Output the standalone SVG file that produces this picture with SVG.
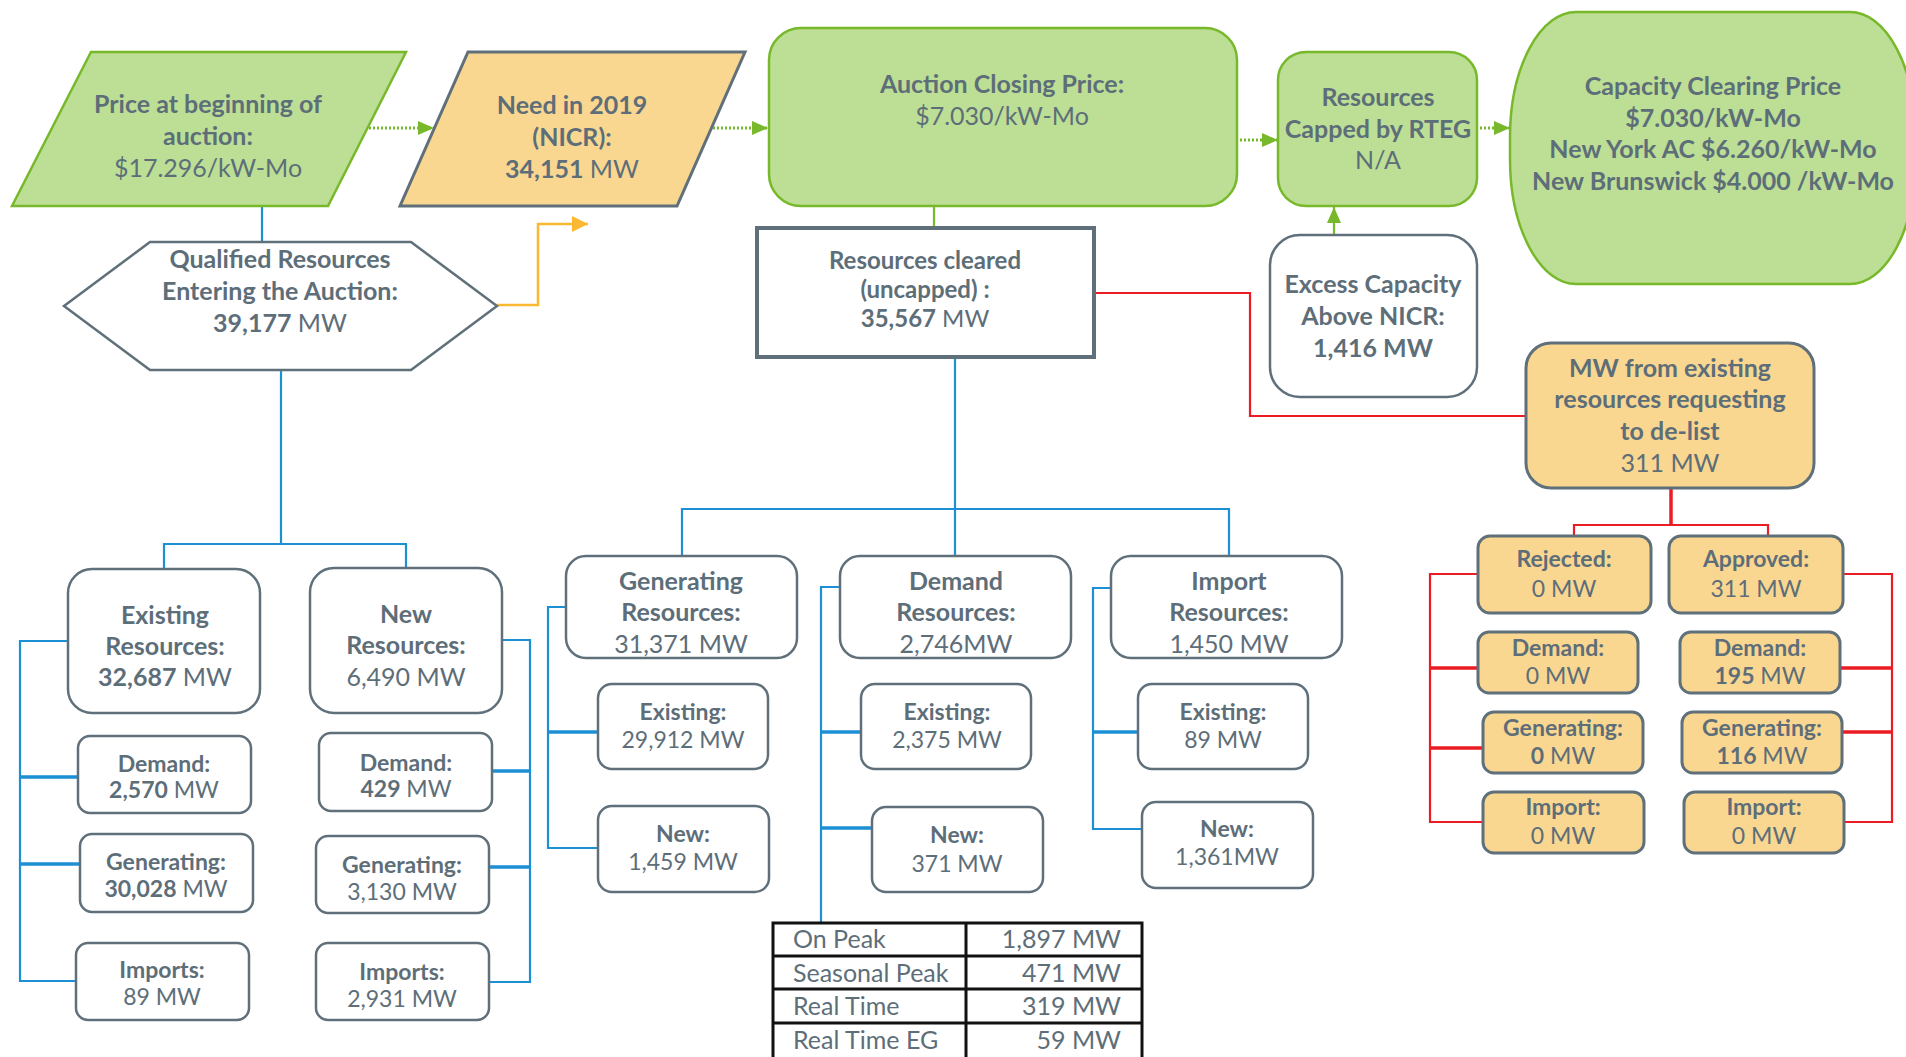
<svg xmlns="http://www.w3.org/2000/svg" width="1906" height="1057" viewBox="0 0 1906 1057">
<defs>
<style>
.t{font-family:Lato,"Liberation Sans",sans-serif;fill:#5d6e79;text-anchor:middle}
.b{font-weight:700}
.r{font-weight:400}
.L{font-size:25px}
.C{font-size:24px}
.S{font-size:23px}
.T{font-size:25px;font-weight:400}
.g{fill:#bcdf95;stroke:#78b92b;stroke-width:2.5}
.o{fill:#fad791;stroke:#5f707b;stroke-width:3}
.w{fill:#ffffff;stroke:#5f707b;stroke-width:2.5}
.cb{fill:none;stroke:#1d8fd5;stroke-width:2.2}
.cbt{fill:none;stroke:#1d8fd5;stroke-width:3.5}
.cr{fill:none;stroke:#ec1c24;stroke-width:2.2}
.crt{fill:none;stroke:#ec1c24;stroke-width:3.5}
.cgd{fill:none;stroke:#78b92b;stroke-width:3;stroke-dasharray:2 2}
.cg{fill:none;stroke:#78b92b;stroke-width:2.2}
.co{fill:none;stroke:#fbb831;stroke-width:2.5}
.tb{fill:none;stroke:#111111;stroke-width:3}
</style>
<marker id="ag" markerUnits="userSpaceOnUse" markerWidth="16" markerHeight="16" viewBox="0 0 16 16" refX="16" refY="8" orient="auto"><path d="M0,1 L16,8 L0,15 z" fill="#78b92b"/></marker>
<marker id="ao" markerUnits="userSpaceOnUse" markerWidth="16" markerHeight="16" viewBox="0 0 16 16" refX="16" refY="8" orient="auto"><path d="M0,0 L16,8 L0,16 z" fill="#fbb831"/></marker>
</defs>
<rect width="1906" height="1057" fill="#ffffff"/>

<g id="connectors">
<line class="cb" x1="262" y1="206" x2="262" y2="242"/>
<path class="co" d="M497,305 H538 V224 H588" marker-end="url(#ao)"/>
<line class="cgd" x1="369" y1="128" x2="434" y2="128" marker-end="url(#ag)"/>
<line class="cgd" x1="713" y1="128" x2="768" y2="128" marker-end="url(#ag)"/>
<line class="cgd" x1="1240" y1="140" x2="1278" y2="140" marker-end="url(#ag)"/>
<line class="cgd" x1="1480" y1="128" x2="1510" y2="128" marker-end="url(#ag)"/>
<line class="cg" x1="934" y1="206" x2="934" y2="228"/>
<line class="cg" x1="1334" y1="235" x2="1334" y2="207" marker-end="url(#ag)"/>
<path class="cr" d="M1094,293 H1250 V416 H1526"/>
<path class="cb" d="M281,370 V544 M164,569 V544 H406 V568"/>
<path class="cb" d="M68,641 H20 V981 H76"/>
<path class="cbt" d="M20,777 H78 M20,864 H80"/>
<path class="cb" d="M502,640 H530 V982 H489"/>
<path class="cbt" d="M492,771 H530 M489,867 H530"/>
<path class="cb" d="M955,357 V556 M682,556 V509 H1229 V556"/>
<path class="cb" d="M566,607 H548 V848 H598"/>
<path class="cbt" d="M548,732 H598"/>
<path class="cb" d="M840,587 H821 V923"/>
<path class="cbt" d="M821,732 H861 M821,828 H872"/>
<path class="cb" d="M1111,588 H1093 V829 H1142"/>
<path class="cbt" d="M1093,732 H1138"/>
<path class="crt" d="M1671,488 V525"/>
<path class="cr" d="M1574,536 V525 H1768 V536"/>
<path class="cr" d="M1478,574 H1430 V822 H1483"/>
<path class="crt" d="M1430,668 H1478 M1430,748 H1483"/>
<path class="cr" d="M1843,574 H1892 V822 H1844"/>
<path class="crt" d="M1840,668 H1892 M1842,732 H1892"/>
</g>

<g id="price-begin">
<polygon class="g" points="91,52 406,52 328,206 12,206"/>
<text class="t L b" x="208" y="113">Price at beginning of</text>
<text class="t L b" x="208" y="145">auction:</text>
<text class="t L r" x="208" y="177">$17.296/kW-Mo</text>
</g>

<g id="need-2019">
<polygon class="o" points="468,52 745,52 677,206 400,206"/>
<text class="t L b" x="572" y="114">Need in 2019</text>
<text class="t L b" x="572" y="146">(NICR):</text>
<text class="t L" x="572" y="178"><tspan class="b">34,151</tspan><tspan class="r"> MW</tspan></text>
</g>

<g id="auction-closing">
<rect class="g" x="769" y="28" width="468" height="178" rx="32"/>
<text class="t L b" x="1002" y="93">Auction Closing Price:</text>
<text class="t L r" x="1002" y="125">$7.030/kW-Mo</text>
</g>

<g id="capped-rteg">
<rect class="g" x="1278" y="52" width="199" height="154" rx="28"/>
<text class="t L b" x="1378" y="106">Resources</text>
<text class="t L b" x="1378" y="138">Capped by RTEG</text>
<text class="t L r" x="1378" y="169">N/A</text>
</g>

<g id="capacity-clearing">
<rect class="g" x="1510" y="12" width="406" height="272" rx="66" ry="125"/>
<text class="t L b" x="1713" y="95">Capacity Clearing Price</text>
<text class="t L b" x="1713" y="127">$7.030/kW-Mo</text>
<text class="t L b" x="1713" y="158">New York AC $6.260/kW-Mo</text>
<text class="t L b" x="1713" y="190">New Brunswick $4.000 /kW-Mo</text>
</g>

<g id="qualified">
<polygon class="w" points="64,306 150,242 411,242 497,306 411,370 150,370"/>
<text class="t L b" x="280" y="268">Qualified Resources</text>
<text class="t L b" x="280" y="300">Entering the Auction:</text>
<text class="t L" x="280" y="332"><tspan class="b">39,177</tspan><tspan class="r"> MW</tspan></text>
</g>

<g id="cleared">
<rect x="757" y="228" width="337" height="129" fill="#ffffff" stroke="#5f707b" stroke-width="4"/>
<text class="t C b" x="925" y="269">Resources cleared</text>
<text class="t C b" x="925" y="298">(uncapped) :</text>
<text class="t C" x="925" y="327"><tspan class="b">35,567</tspan><tspan class="r"> MW</tspan></text>
</g>

<g id="excess">
<rect class="w" x="1270" y="235" width="207" height="162" rx="30"/>
<text class="t L b" x="1373" y="293">Excess Capacity</text>
<text class="t L b" x="1373" y="325">Above NICR:</text>
<text class="t L b" x="1373" y="357">1,416 MW</text>
</g>

<g id="delist">
<rect class="o" x="1526" y="343" width="288" height="145" rx="25"/>
<text class="t L b" x="1670" y="377">MW from existing</text>
<text class="t L b" x="1670" y="408">resources requesting</text>
<text class="t L b" x="1670" y="440">to de-list</text>
<text class="t L r" x="1670" y="472">311 MW</text>
</g>

<g id="existing-res">
<rect class="w" x="68" y="569" width="192" height="144" rx="24"/>
<text class="t L b" x="165" y="624">Existing</text>
<text class="t L b" x="165" y="655">Resources:</text>
<text class="t L" x="165" y="686"><tspan class="b">32,687</tspan><tspan class="r"> MW</tspan></text>
</g>

<g id="new-res">
<rect class="w" x="310" y="568" width="192" height="145" rx="24"/>
<text class="t L b" x="406" y="623">New</text>
<text class="t L b" x="406" y="654">Resources:</text>
<text class="t L r" x="406" y="686">6,490 MW</text>
</g>

<g id="ex-demand">
<rect class="w" x="78" y="736" width="173" height="77" rx="12"/>
<text class="t S b" x="164" y="772">Demand:</text>
<text class="t S" x="164" y="798"><tspan class="b">2,570</tspan><tspan class="r"> MW</tspan></text>
</g>
<g id="ex-generating">
<rect class="w" x="80" y="834" width="173" height="78" rx="12"/>
<text class="t S b" x="166" y="870">Generating:</text>
<text class="t S" x="166" y="897"><tspan class="b">30,028</tspan><tspan class="r"> MW</tspan></text>
</g>
<g id="ex-imports">
<rect class="w" x="76" y="943" width="173" height="77" rx="12"/>
<text class="t S b" x="162" y="978">Imports:</text>
<text class="t S r" x="162" y="1005">89 MW</text>
</g>

<g id="new-demand">
<rect class="w" x="319" y="733" width="173" height="78" rx="12"/>
<text class="t S b" x="406" y="771">Demand:</text>
<text class="t S" x="406" y="797"><tspan class="b">429</tspan><tspan class="r"> MW</tspan></text>
</g>
<g id="new-generating">
<rect class="w" x="316" y="836" width="173" height="77" rx="12"/>
<text class="t S b" x="402" y="873">Generating:</text>
<text class="t S r" x="402" y="900">3,130 MW</text>
</g>
<g id="new-imports">
<rect class="w" x="316" y="943" width="173" height="77" rx="12"/>
<text class="t S b" x="402" y="980">Imports:</text>
<text class="t S r" x="402" y="1007">2,931 MW</text>
</g>

<g id="gen-res">
<rect class="w" x="566" y="556" width="231" height="102" rx="20"/>
<text class="t L b" x="681" y="590">Generating</text>
<text class="t L b" x="681" y="621">Resources:</text>
<text class="t L r" x="681" y="653">31,371 MW</text>
</g>
<g id="dem-res">
<rect class="w" x="840" y="556" width="231" height="102" rx="20"/>
<text class="t L b" x="956" y="590">Demand</text>
<text class="t L b" x="956" y="621">Resources:</text>
<text class="t L r" x="956" y="653">2,746MW</text>
</g>
<g id="imp-res">
<rect class="w" x="1111" y="556" width="231" height="102" rx="20"/>
<text class="t L b" x="1229" y="590">Import</text>
<text class="t L b" x="1229" y="621">Resources:</text>
<text class="t L r" x="1229" y="653">1,450 MW</text>
</g>

<g id="gen-existing">
<rect class="w" x="598" y="684" width="170" height="85" rx="14"/>
<text class="t S b" x="683" y="720">Existing:</text>
<text class="t S r" x="683" y="748">29,912 MW</text>
</g>
<g id="gen-new">
<rect class="w" x="598" y="806" width="171" height="86" rx="14"/>
<text class="t S b" x="683" y="842">New:</text>
<text class="t S r" x="683" y="870">1,459 MW</text>
</g>
<g id="dem-existing">
<rect class="w" x="861" y="684" width="170" height="85" rx="14"/>
<text class="t S b" x="947" y="720">Existing:</text>
<text class="t S r" x="947" y="748">2,375 MW</text>
</g>
<g id="dem-new">
<rect class="w" x="872" y="807" width="171" height="85" rx="14"/>
<text class="t S b" x="957" y="843">New:</text>
<text class="t S r" x="957" y="872">371 MW</text>
</g>
<g id="imp-existing">
<rect class="w" x="1138" y="684" width="170" height="85" rx="14"/>
<text class="t S b" x="1223" y="720">Existing:</text>
<text class="t S r" x="1223" y="748">89 MW</text>
</g>
<g id="imp-new">
<rect class="w" x="1142" y="802" width="171" height="86" rx="14"/>
<text class="t S b" x="1227" y="837">New:</text>
<text class="t S r" x="1227" y="865">1,361MW</text>
</g>

<g id="demand-table">
<rect class="tb" x="773" y="923" width="369" height="140"/>
<path class="tb" d="M966,923 V1063 M773,956 H1142 M773,989 H1142 M773,1023 H1142"/>
<text class="t T" x="793" y="948" style="text-anchor:start">On Peak</text>
<text class="t T" x="1121" y="948" style="text-anchor:end">1,897 MW</text>
<text class="t T" x="793" y="982" style="text-anchor:start">Seasonal Peak</text>
<text class="t T" x="1121" y="982" style="text-anchor:end">471 MW</text>
<text class="t T" x="793" y="1015" style="text-anchor:start">Real Time</text>
<text class="t T" x="1121" y="1015" style="text-anchor:end">319 MW</text>
<text class="t T" x="793" y="1049" style="text-anchor:start">Real Time EG</text>
<text class="t T" x="1121" y="1049" style="text-anchor:end">59 MW</text>
</g>

<g id="rejected">
<rect class="o" x="1478" y="536" width="173" height="77" rx="12"/>
<text class="t S b" x="1564" y="567">Rejected:</text>
<text class="t S r" x="1564" y="597">0 MW</text>
</g>
<g id="approved">
<rect class="o" x="1669" y="536" width="174" height="77" rx="12"/>
<text class="t S b" x="1756" y="567">Approved:</text>
<text class="t S r" x="1756" y="597">311 MW</text>
</g>
<g id="rej-demand">
<rect class="o" x="1478" y="632" width="160" height="61" rx="11"/>
<text class="t S b" x="1558" y="656">Demand:</text>
<text class="t S r" x="1558" y="684">0 MW</text>
</g>
<g id="rej-generating">
<rect class="o" x="1483" y="712" width="160" height="61" rx="11"/>
<text class="t S b" x="1563" y="736">Generating:</text>
<text class="t S" x="1563" y="764"><tspan class="b">0</tspan><tspan class="r"> MW</tspan></text>
</g>
<g id="rej-import">
<rect class="o" x="1483" y="792" width="161" height="61" rx="11"/>
<text class="t S b" x="1563" y="815">Import:</text>
<text class="t S r" x="1563" y="844">0 MW</text>
</g>
<g id="app-demand">
<rect class="o" x="1680" y="632" width="160" height="61" rx="11"/>
<text class="t S b" x="1760" y="656">Demand:</text>
<text class="t S" x="1760" y="684"><tspan class="b">195</tspan><tspan class="r"> MW</tspan></text>
</g>
<g id="app-generating">
<rect class="o" x="1682" y="712" width="160" height="61" rx="11"/>
<text class="t S b" x="1762" y="736">Generating:</text>
<text class="t S" x="1762" y="764"><tspan class="b">116</tspan><tspan class="r"> MW</tspan></text>
</g>
<g id="app-import">
<rect class="o" x="1684" y="792" width="160" height="61" rx="11"/>
<text class="t S b" x="1764" y="815">Import:</text>
<text class="t S r" x="1764" y="844">0 MW</text>
</g>
</svg>
